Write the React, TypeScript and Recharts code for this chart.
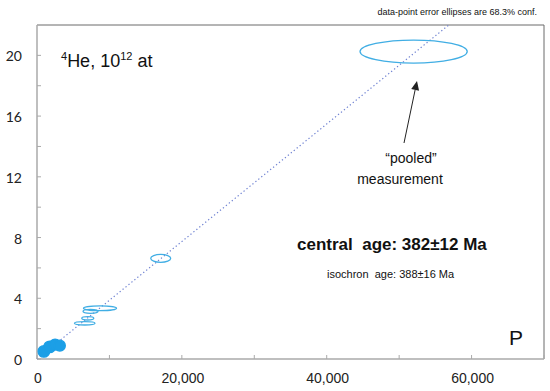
import { ScatterChart, Scatter, XAxis, YAxis, ReferenceLine, Customized } from 'recharts';

// isotope data: P (x) vs 4He in 10^12 atoms (y), with 1-sigma half-widths
const sampleP = [8700, 7390, 7010, 6590, 17080];
const sampleHe = [3.34, 3.14, 2.68, 2.35, 6.63];
const sampleSigP = [2280, 1035, 830, 1420, 1380];
const sampleSigHe = [0.16, 0.13, 0.11, 0.11, 0.26];

// tiny, tightly-constrained points near the origin (drawn filled)
const smallP = [950, 1750, 2500, 3150];
const smallHe = [0.5, 0.8, 0.95, 0.88];
const smallSigP = [800, 820, 780, 760];
const smallSigHe = [0.38, 0.38, 0.36, 0.36];

const pooledP = [52000];
const pooledHe = [20.25];
const pooledSigP = [7400];
const pooledSigHe = [0.76];

const isochronP = [0, 56850];
const isochronHe = [0, 22];

const xTicks = [0, 10000, 20000, 30000, 40000, 50000, 60000, 70000];
const yTicks = [0, 2, 4, 6, 8, 10, 12, 14, 16, 18, 20];

const W = 550;
const H = 391;
const X_MAX = 70000;
const Y_MAX = 22;
const PLOT_LEFT = 37;
const PLOT_TOP = 25;
const PLOT_RIGHT = 544;
const PLOT_BOTTOM = 359;
const PLOT_W = PLOT_RIGHT - PLOT_LEFT;
const PLOT_H = PLOT_BOTTOM - PLOT_TOP;

const ELLIPSE = '#41aee4';
const FILLED = '#1c9fe6';

const toRows = (p: number[], he: number[], sp: number[], sh: number[]) =>
  p.map((v, i) => ({ p: v, he: he[i], sp: sp[i], sh: sh[i] }));

const samples = toRows(sampleP, sampleHe, sampleSigP, sampleSigHe);
const smalls = toRows(smallP, smallHe, smallSigP, smallSigHe);
const pooled = toRows(pooledP, pooledHe, pooledSigP, pooledSigHe);
const isochron = isochronP.map((v, i) => ({ p: v, he: isochronHe[i] }));

function ellipse(filled: boolean) {
  return (props: any) => {
    const { cx, cy, payload } = props;
    const rx = (payload.sp * PLOT_W) / X_MAX;
    const ry = (payload.sh * PLOT_H) / Y_MAX;
    return (
      <ellipse
        cx={cx}
        cy={cy}
        rx={rx}
        ry={ry}
        fill={filled ? FILLED : 'none'}
        stroke={filled ? FILLED : ELLIPSE}
        strokeWidth={1.3}
      />
    );
  };
}

function XTick({ x, payload }: any) {
  const v = payload.value;
  return (
    <g>
      <line x1={x} x2={x} y1={PLOT_BOTTOM} y2={PLOT_BOTTOM - 4} stroke="#aaa" />
      {v % 20000 === 0 && (
        <text x={x + 1} y={383} textAnchor="middle" fontSize={14} fill="#222" fontFamily="'Liberation Sans', Arial, sans-serif">
          {v.toLocaleString('en-US')}
        </text>
      )}
    </g>
  );
}

function YTick({ y, payload }: any) {
  const v = payload.value;
  return (
    <g>
      <line x1={PLOT_LEFT} x2={PLOT_LEFT + 4} y1={y} y2={y} stroke="#aaa" />
      {v % 4 === 0 && (
        <text x={22} y={y + 6} textAnchor="end" fontSize={14} fill="#222" fontFamily="Lato, sans-serif">
          {v}
        </text>
      )}
    </g>
  );
}

function Annotations() {
  const font = "'Liberation Sans', Arial, Helvetica, sans-serif";
  // arrow from label to pooled ellipse
  const x1 = 404, y1 = 143, x2 = 417, y2 = 81;
  const ang = Math.atan2(y2 - y1, x2 - x1);
  const hl = 9, hw = 4;
  const bx = x2 - hl * Math.cos(ang), by = y2 - hl * Math.sin(ang);
  const head = [
    [x2, y2],
    [bx + hw * Math.sin(ang), by - hw * Math.cos(ang)],
    [bx - hw * Math.sin(ang), by + hw * Math.cos(ang)],
  ].map((q) => q.join(',')).join(' ');
  return (
    <g fontFamily={font} fill="#111">
      <text x={537} y={15} textAnchor="end" fontSize={9}>data-point error ellipses are 68.3% conf.</text>
      <text x={61} y={67} fontSize={18}>
        <tspan fontSize={11} dy={-7}>4</tspan>
        <tspan dy={7}>He, 10</tspan>
        <tspan fontSize={11} dy={-7}>12</tspan>
        <tspan dy={7}> at</tspan>
      </text>
      <line x1={x1} y1={y1} x2={bx} y2={by} stroke="#222" strokeWidth={1} />
      <polygon points={head} fill="#222" />
      <text x={411} y={163} textAnchor="middle" fontSize={14}>“pooled”</text>
      <text x={400} y={184} textAnchor="middle" fontSize={14}>measurement</text>
      <text x={297} y={250} fontSize={17} fontWeight="bold" xmlSpace="preserve">{'central  age: 382±12 Ma'}</text>
      <text x={327} y={278} fontSize={11} xmlSpace="preserve">{'isochron  age: 388±16 Ma'}</text>
      <text x={509} y={345} fontSize={21}>P</text>
    </g>
  );
}

export default function App() {
  return (
    <div style={{ position: 'absolute', left: 0, top: 0, width: W, height: H, background: '#fff' }}>
      <ScatterChart width={W} height={H} margin={{ top: PLOT_TOP, right: W - PLOT_RIGHT, bottom: 0, left: 0 }}>
        <XAxis
          type="number"
          dataKey="p"
          domain={[0, X_MAX]}
          ticks={xTicks}
          interval={0}
          tickLine={false}
          height={H - PLOT_BOTTOM}
          axisLine={{ stroke: '#aaa', strokeWidth: 1.5 }}
          tick={<XTick />}
        />
        <YAxis
          type="number"
          dataKey="he"
          domain={[0, Y_MAX]}
          ticks={yTicks}
          interval={0}
          tickLine={false}
          width={PLOT_LEFT}
          axisLine={{ stroke: '#aaa', strokeWidth: 1.5 }}
          tick={<YTick />}
        />
        <ReferenceLine y={Y_MAX} stroke="#6b6b6b" strokeWidth={1} />
        <ReferenceLine x={X_MAX} stroke="#6b6b6b" strokeWidth={1} />
        <Scatter
          data={isochron}
          line={{ stroke: '#6f82d2', strokeWidth: 1.2, strokeDasharray: '1.3 2.5' }}
          shape={() => <g />}
          isAnimationActive={false}
        />
        <Scatter data={samples} shape={ellipse(false)} isAnimationActive={false} />
        <Scatter data={smalls} shape={ellipse(true)} isAnimationActive={false} />
        <Scatter data={pooled} shape={ellipse(false)} isAnimationActive={false} />
        <Customized component={Annotations} />
      </ScatterChart>
    </div>
  );
}
